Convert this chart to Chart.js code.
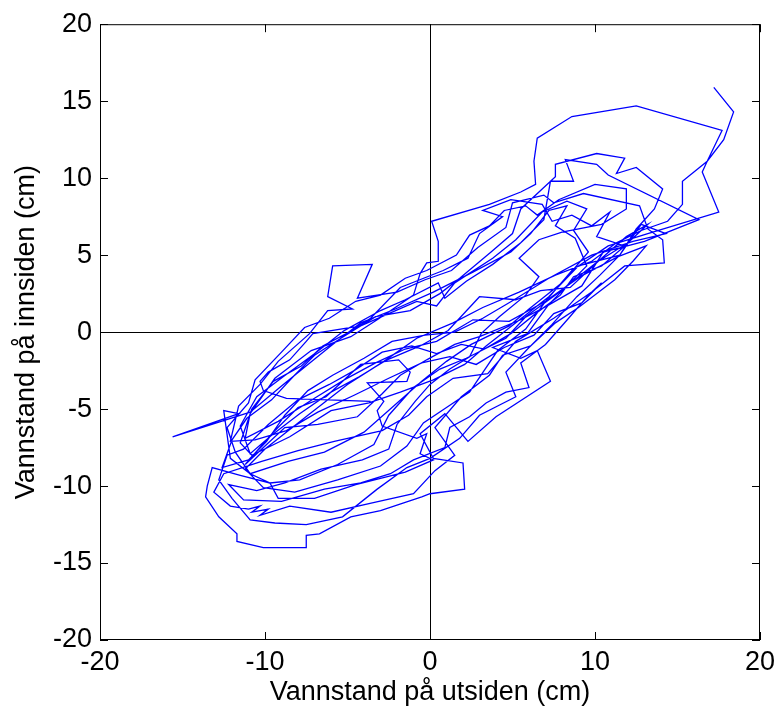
<!DOCTYPE html>
<html>
<head>
<meta charset="utf-8">
<script src="https://cdn.jsdelivr.net/npm/chart.js@4.4.1/dist/chart.umd.min.js"></script>
<style>
  html, body { margin: 0; padding: 0; background: #fff; }
  #wrap { width: 776px; height: 709px; }
</style>
</head>
<body>
<div id="wrap"><canvas id="chart" width="776" height="709"></canvas></div>
<script>
// vannstand utside (x) og innside (y), cm
const outside = [
  -3.6, -8.7, -10.1, -10.3, -9.8, -8.5, -7.5, -7.1, -4.2, -2.5, -0.8, 0.4, 1.5, 3.8, 5.2, 6.8, 8.3, 9.5, 8.7, 9.6, 8.0, 6.0, 4.8, 2.5, 1.0, -0.5, -2.2, -4.0, -6.4, -8.6, -10.9, -12.1,
  -12.5, -11.6, -15.6, -10.9, -9.0, -7.4, -5.9, -4.2, -2.1, 0.2, 2.6, 4.9, 6.1, 7.2, 8.3, 7.6, 8.8, 9.5, 8.1, 5.8, 4.6, 2.2, 0.6, -1.0, -2.5, -3.4, -5.6, -7.9, -9.7, -11.5, -13.2,
  -13.5, -13.6, -12.8, -11.7, -11.7, -10.1, -7.5, -7.5, -6.7, -4.8, -3.0, -0.5, 0.0, 2.1, 2.0, 0.2, -0.6, 0.9, 2.3, 4.0, 7.3, 6.5, 5.5, 3.8, 5.9, 7.2, 8.4, 10.3, 11.9, 13.2, 12.0, 10.2, 8.5, 6.7, 5.2, 3.0, 1.1, -0.6, -2.6, -4.3, -6.0, -7.9, -9.6, -10.9,
  -11.5, -10.5, -8.9, -7.0, -5.2, -3.0, -1.5, 0.5, 0.9, 2.2, 3.8, 5.5, 6.9, 7.3, 8.7, 8.2, 10.1, 10.8, 16.3, 13.0, 10.5, 9.2, 7.1, 5.5, 3.0, 1.5, -0.2, -1.8, -2.9, -4.4, -6.8, -8.8, -10.0, -11.2,
  -9.5, -8.0, -6.3, -4.2, -1.9, -1.2, -1.4, -3.8, -2.8, -3.2, -2.9, -0.8, -0.2, -0.6, 0.2, -1.5, -4.5, -7.0, -9.2, -9.7, -10.9,
  -11.8, -12.3, -11.0, -10.6, -9.0, -7.6, -6.1, -4.5, -3.0, -1.5, -0.2, 1.6, 2.4, 3.6, 4.5, 5.8, 6.5, 7.8, 10.0, 11.9, 11.9, 10.4, 8.0, 6.6, 5.4, 6.6, 5.8, 4.2, 3.1, 2.4, 1.2, 0.0, -0.9, -2.0, -2.5, -4.1, -6.6, -8.8, -10.5,
  -12.2, -11.3, -9.0, -6.4, -4.2, -2.4, -1.0, 0.9, 1.2, 2.4, 3.4, 4.6, 6.0, 5.5, 7.0, 8.4, 9.6, 10.4, 9.2, 7.5, 6.3, 4.5, 2.8, 1.2, -0.5, -2.5, -4.6, -6.8, -8.7, -10.6,
  -12.1, -11.6, -10.3, -9.2, -7.3, -6.2, -4.7, -6.2, -5.9, -3.5, -4.4, -2.0, -0.3, 1.3, 2.9, 4.6, 5.0, 6.9, 7.5, 9.3, 12.7, 13.2, 14.1, 14.2, 11.8, 9.8, 7.5, 5.2, 3.5, 1.4, -0.2, -1.3, -2.9, -5.8, -8.0, -10.2,
  -12.5, -13.1, -12.1, -11.0, -10.3, -10.8, -9.8, -10.3, -8.5, -6.0, -3.5, -1.0, 0.3, 1.5, 0.3, 1.9, 3.6, 4.4, 6.1, 7.4, 8.9, 10.3, 11.5, 12.8, 14.3, 12.3, 9.8, 7.2, 5.1, 3.2, 1.5, -0.3, -2.3, -4.0, -5.9, -7.4, -8.8, -9.9, -11.0,
  -12.6, -12.0, -11.1, -9.6, -8.3, -7.0, -5.4, -3.3, -1.2, 0.6, 1.8, 3.7, 5.0, 5.5, 7.6, 7.6, 10.1, 11.8, 11.3, 12.5, 14.1, 13.6, 12.5, 11.5, 9.0, 7.2, 5.2, 3.4, 2.1, 0.2, -1.8, -3.7, -6.0, -8.5, -10.8,
  -11.5, -10.8, -9.5, -7.8, -6.5, -4.9, -3.6, -1.8, 0.8, 2.3, 3.0, 4.4, 3.2, 4.9, 6.8, 7.4, 8.6, 9.8, 10.9, 10.1, 11.8, 10.4, 8.7, 7.9, 6.4, 4.9, 3.3, 1.9, 0.4, -1.1, -2.9, -4.6, -6.1, -8.0, -9.8, -11.3,
  -12.3, -12.8, -12.0, -10.9, -9.4, -7.5, -5.3, -3.2, -1.4, 0.0, 1.8, 3.0, 5.2, 4.6, 6.0, 7.6, 9.0, 11.2, 12.3, 13.1, 11.4, 9.1, 7.0, 4.8, 2.6, 0.4, -1.5, -3.3, -5.2, -7.0, -9.2, -11.2,
  -10.9, -9.4, -7.2, -4.8, -3.2, -1.0, -0.6, -0.2, 0.5, 0.5, 0.1, 3.6, 5.5, 6.4, 6.3, 6.5, 8.6, 12.5, 17.7, 16.8, 16.5, 17.5, 13.2, 10.8, 8.6, 7.0, 5.8, 4.1, 2.4, 1.0, -0.4, -1.4, -3.0, -5.6, -8.2, -10.1, -11.2,
  -10.0, -7.4, -5.0, -2.8, -0.8, 1.4, 3.2, 5.4, 7.6, 9.8, 11.3, 12.8, 14.4, 15.3, 15.3, 16.8, 17.8, 18.4, 17.2
];
const inside = [
  -4.5, -4.3, -3.8, -3.2, -2.6, -1.8, -0.6, -0.1, 0.4, 1.2, 2.0, 1.7, 3.2, 4.8, 6.0, 7.8, 8.5, 8.0, 6.6, 5.2, 3.2, 1.5, 0.4, -0.8, -1.9, -3.2, -4.8, -6.5, -7.8, -8.4, -9.2, -8.2,
  -5.1, -5.3, -6.8, -5.2, -3.5, -2.1, -0.8, 0.6, 1.5, 2.6, 3.9, 5.2, 6.4, 7.9, 8.2, 6.9, 6.1, 4.3, 2.8, 1.0, -0.4, -1.7, -2.4, -3.6, -5.4, -7.3, -8.6, -9.6, -9.8, -9.3, -8.8,
  -10.0, -10.7, -12.0, -13.1, -13.6, -14.0, -14.0, -13.2, -13.1, -12.0, -11.6, -10.7, -10.5, -10.2, -8.5, -8.2, -6.6, -5.3, -7.1, -5.5, -3.2, -1.2, -1.7, -1.0, -0.1, 1.8, 3.1, 4.7, 6.2, 7.0, 5.8, 4.6, 2.9, 2.7, 2.1, 2.3, 0.1, -0.9, -1.8, -2.9, -3.9, -5.3, -6.7, -7.9,
  -6.1, -4.2, -2.9, -1.4, 0.1, 1.4, 2.1, 3.2, 2.2, 3.3, 4.4, 5.8, 7.3, 9.8, 9.8, 11.2, 10.9, 10.2, 7.3, 5.9, 5.2, 3.0, 1.7, 0.8, -0.3, -0.8, -1.8, -2.8, -4.0, -5.5, -6.0, -6.2, -7.4, -8.6,
  -6.5, -4.9, -4.2, -2.1, -1.8, -2.6, -3.2, -3.3, -4.5, -5.1, -6.1, -6.9, -6.6, -7.9, -8.3, -9.1, -9.9, -10.8, -10.8, -9.8, -9.2,
  -7.8, -6.2, -4.6, -3.1, -1.3, 0.3, 0.9, 2.0, 2.4, 3.5, 4.0, 5.0, 6.3, 6.9, 7.9, 8.2, 7.6, 8.6, 9.6, 9.3, 8.0, 7.0, 6.5, 6.0, 4.8, 3.6, 2.4, 1.0, -0.1, -1.6, -2.4, -3.4, -4.5, -6.0, -7.6, -8.3, -8.9, -9.8, -10.3,
  -9.9, -10.9, -11.0, -10.2, -9.8, -9.2, -8.3, -7.5, -6.2, -5.5, -4.6, -3.9, -3.6, -2.0, -0.8, 0.9, 2.4, 3.2, 1.9, 1.2, -0.2, -1.0, -2.1, -1.6, -2.0, -3.0, -4.1, -5.2, -6.4, -7.0,
  -7.1, -4.8, -3.4, -1.9, -0.1, 1.4, 1.5, 2.3, 4.3, 4.4, 2.2, 2.6, 3.4, 4.0, 5.5, 6.8, 8.4, 8.9, 8.4, 9.0, 8.2, 6.7, 6.0, 4.5, 4.3, 2.6, 0.9, -0.6, -2.7, -3.0, -4.2, -5.4, -6.4, -7.1, -7.7, -8.4,
  -9.2, -10.4, -11.3, -11.5, -11.3, -11.7, -11.5, -11.9, -11.3, -11.7, -11.1, -10.5, -9.0, -8.0, -6.2, -4.2, -2.8, -1.5, -0.9, 0.5, 2.3, 3.7, 5.0, 7.0, 6.4, 5.9, 5.0, 3.5, 2.1, 0.9, 0.0, -0.2, -0.6, -1.7, -2.8, -3.8, -5.4, -7.1, -8.3,
  -8.8, -7.0, -5.6, -4.4, -2.9, -1.5, -0.4, 1.0, 1.4, 2.5, 3.5, 5.2, 6.4, 8.0, 10.1, 10.9, 11.6, 11.3, 10.3, 10.7, 9.3, 8.0, 6.7, 5.0, 4.3, 2.3, 0.6, -0.9, -2.1, -3.1, -3.9, -4.6, -5.1, -6.8, -8.0,
  -7.2, -5.0, -3.2, -2.2, -0.9, 0.0, 0.9, 2.9, 4.0, 4.8, 6.4, 7.5, 7.9, 8.6, 8.3, 7.2, 7.6, 6.9, 7.8, 6.2, 5.6, 4.3, 3.6, 2.4, 1.2, -0.1, -1.1, -0.8, -1.4, -0.9, -1.3, -2.5, -3.4, -4.4, -6.0, -7.6,
  -8.0, -9.6, -10.8, -12.2, -12.4, -12.5, -12.0, -10.2, -8.8, -8.2, -6.9, -5.4, -4.2, -2.6, -1.0, 0.6, 1.6, 3.4, 4.6, 5.6, 4.9, 3.6, 2.0, 0.7, 0.8, -0.6, -1.1, -2.0, -3.1, -4.3, -5.8, -6.9,
  -5.3, -3.0, -1.2, -0.3, 0.8, 2.4, 3.8, 4.5, 4.6, 5.9, 7.2, 8.3, 9.1, 9.6, 11.1, 12.6, 14.0, 14.7, 13.1, 11.1, 10.4, 7.8, 6.4, 5.6, 4.0, 2.0, 0.2, -1.2, -3.9, -4.9, -5.9, -7.4, -8.7, -9.6, -10.4, -10.1, -8.9,
  -7.6, -5.4, -3.4, -1.9, -0.4, 0.6, 1.6, 2.6, 3.7, 4.6, 5.8, 6.6, 7.2, 8.3, 9.8, 11.1, 12.5, 14.3, 15.9
];
const xTicks = [-20, -10, 0, 10, 20];
const yTicks = [-20, -15, -10, -5, 0, 5, 10, 15, 20];

const points = outside.map((x, i) => ({ x: x, y: inside[i] }));

// ramme rundt plottet og innoverrettede tick-merker (MATLAB-stil)
const framePlugin = {
  id: 'frame',
  afterDraw(chart) {
    const { ctx, chartArea: a, scales } = chart;
    const len = 8;
    ctx.save();
    ctx.strokeStyle = '#000';
    ctx.lineWidth = 1;
    ctx.strokeRect(a.left + 0.5, a.top + 0.5, a.right - a.left - 1, a.bottom - a.top - 1);
    ctx.beginPath();
    xTicks.forEach(v => {
      const px = Math.round(scales.x.getPixelForValue(v)) + 0.5;
      ctx.moveTo(px, a.bottom); ctx.lineTo(px, a.bottom - len);
      ctx.moveTo(px, a.top); ctx.lineTo(px, a.top + len);
    });
    yTicks.forEach(v => {
      const py = Math.round(scales.y.getPixelForValue(v)) + 0.5;
      ctx.moveTo(a.left, py); ctx.lineTo(a.left + len, py);
      ctx.moveTo(a.right, py); ctx.lineTo(a.right - len, py);
    });
    ctx.stroke();
    ctx.restore();
  }
};

const font = { family: '"Liberation Sans", Arial, sans-serif', size: 27 };
const zeroLine = c => (c.tick && c.tick.value === 0) ? '#000' : 'rgba(0,0,0,0)';

new Chart(document.getElementById('chart').getContext('2d'), {
  type: 'scatter',
  data: {
    datasets: [{
      data: points,
      showLine: true,
      borderColor: '#0000ff',
      backgroundColor: '#0000ff',
      borderWidth: 1.3,
      pointRadius: 0,
      tension: 0
    }]
  },
  options: {
    responsive: false,
    animation: false,
    layout: { padding: { top: 22, right: 16, left: 0, bottom: 0 } },
    plugins: { legend: { display: false }, tooltip: { enabled: false } },
    scales: {
      x: {
        type: 'linear', min: -20, max: 20,
        afterBuildTicks: s => { s.ticks = xTicks.map(v => ({ value: v })); },
        afterFit: s => { s.height = 69; s.paddingLeft = 0; s.paddingRight = 0; },
        grid: { color: zeroLine, lineWidth: 1, drawTicks: false },
        border: { display: false },
        ticks: { color: '#000', font: font, padding: 6, maxRotation: 0 },
        title: { display: true, text: 'Vannstand på utsiden (cm)', color: '#000', font: font, padding: { top: 0, bottom: 0 } }
      },
      y: {
        type: 'linear', min: -20, max: 20,
        afterBuildTicks: s => { s.ticks = yTicks.map(v => ({ value: v })); },
        afterFit: s => { s.width = 100; },
        grid: { color: zeroLine, lineWidth: 1, drawTicks: false },
        border: { display: false },
        ticks: { color: '#000', font: font, padding: 8 },
        title: { display: true, text: 'Vannstand på innsiden (cm)', color: '#000', font: font, padding: { top: 10, bottom: 0 } }
      }
    }
  },
  plugins: [framePlugin]
});
</script>
</body>
</html>
